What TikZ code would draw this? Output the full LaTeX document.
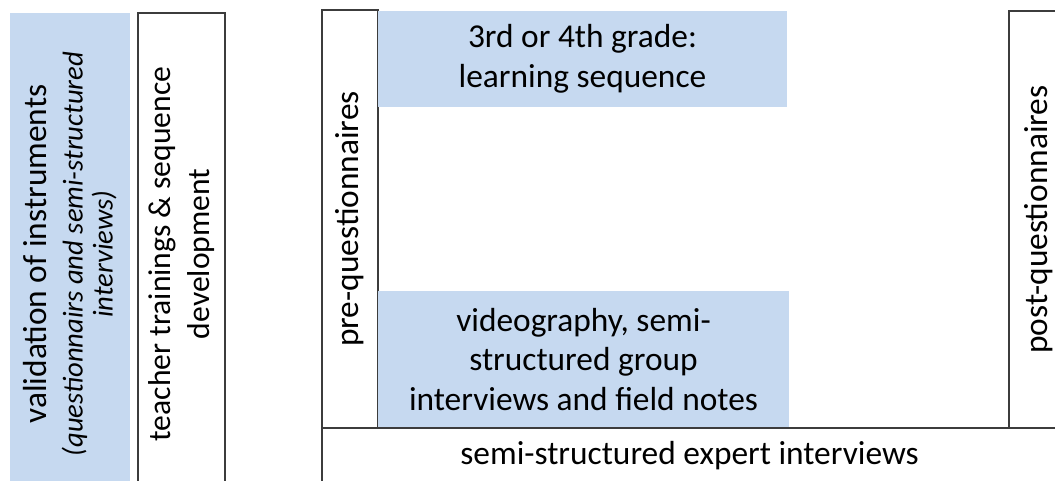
\documentclass[tikz,border=0pt]{standalone}
\usepackage{fontspec}
\setmainfont{Carlito}
\usetikzlibrary{positioning}
\definecolor{stBlue}{HTML}{C6D9F0}
\definecolor{stLine}{HTML}{3C3C3C}

\begin{document}
\begin{tikzpicture}[
  every node/.style={font=\fontsize{19}{22.5}\selectfont, align=center, inner sep=0pt},
  phase/.style={
    rectangle, fill=stBlue
  },
  frame/.style={
    rectangle, draw=stLine, line width=1pt
  },
  upright/.style={rotate=90},
  small/.style={font=\fontsize{18}{22}\selectfont}
]
 \useasboundingbox (0,0) rectangle (21.1,9.62);
 \clip (0,0) rectangle (21.1,9.62);

 % Preparation columns
 \node[phase, upright, minimum width=9.64cm, minimum height=2.4cm] (valid) at (1.4,4.54)
  {validation of instruments\\[-2pt]
   {\fontsize{16.3}{17}\selectfont\itshape (questionnairs and semi-structured}\\[-5.5pt]
   {\fontsize{16.3}{17}\selectfont\itshape interviews)}};
 \node[frame, upright, small, minimum width=9.64cm, minimum height=1.74cm] (train) at (3.63,4.54)
  {teacher trainings \& sequence\\development};

 % Questionnaires before and after
 \node[frame, upright, minimum width=8.36cm, minimum height=1.12cm] (pre) at (7.0,5.24)
  {pre-questionnaires};
 \node[frame, upright, minimum width=8.34cm, minimum height=1.2cm] (post) at (20.78,5.23)
  {post-questionnaires};

 % Classroom phase
 \node[phase, minimum width=8.18cm, minimum height=1.92cm] (grade) at (11.65,8.44)
  {3rd or 4th grade:\\learning sequence};
 \node[phase, minimum width=8.22cm, minimum height=2.74cm] (video) at (11.67,2.43)
  {videography, semi-\\structured group\\interviews and field notes};

 % Expert interviews along the bottom
 \node[frame, minimum width=14.7cm, minimum height=1.12cm] (expert) at (13.79,0.50)
  {semi-structured expert interviews};
\end{tikzpicture}
\end{document}
